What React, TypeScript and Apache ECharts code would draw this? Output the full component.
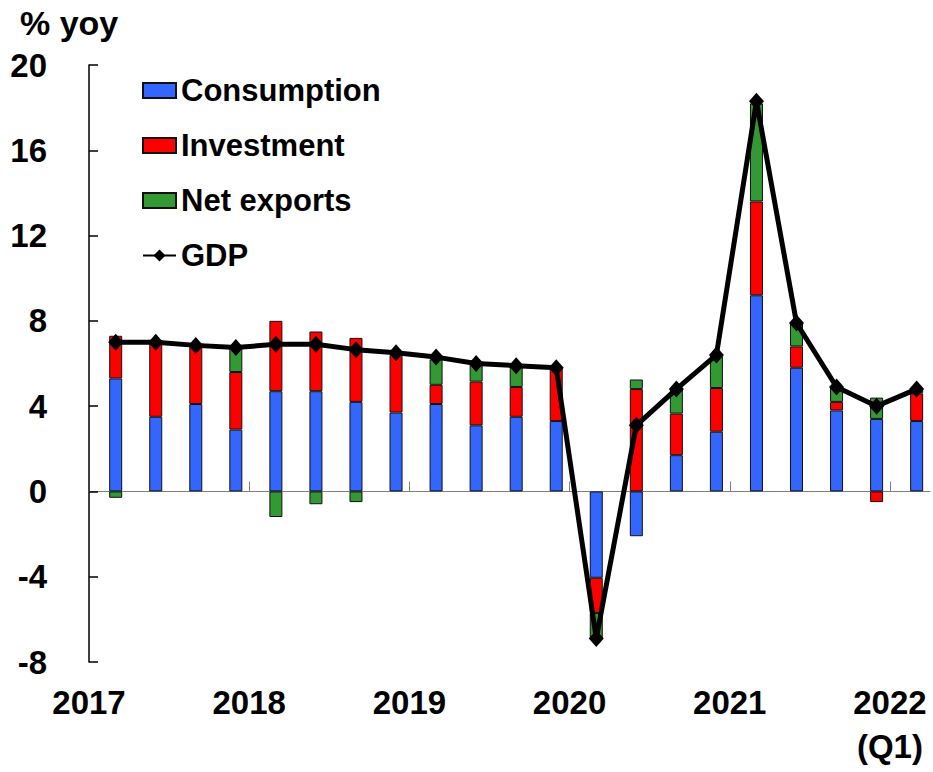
import React, { useEffect, useRef } from "react";
import * as echarts from "echarts";

const quarters = [
  "2017Q1", "2017Q2", "2017Q3", "2017Q4",
  "2018Q1", "2018Q2", "2018Q3", "2018Q4",
  "2019Q1", "2019Q2", "2019Q3", "2019Q4",
  "2020Q1", "2020Q2", "2020Q3", "2020Q4",
  "2021Q1", "2021Q2", "2021Q3", "2021Q4",
  "2022Q1",
];
const consumption = [5.3, 3.5, 4.1, 2.9, 4.7, 4.7, 4.2, 3.7, 4.1, 3.1, 3.5, 3.3, -4.05, -2.1, 1.7, 2.8, 9.2, 5.8, 3.8, 3.4, 3.3];
const investment = [2.0, 3.5, 2.7, 2.7, 3.3, 2.8, 3.0, 2.7, 0.9, 2.05, 1.4, 2.5, -1.65, 4.8, 1.95, 2.05, 4.4, 1.0, 0.4, -0.5, 1.3];
const netExports = [-0.3, 0, 0, 1.2, -1.2, -0.6, -0.5, 0, 1.2, 0.8, 1.0, 0, -1.2, 0.45, 1.15, 1.5, 4.6, 1.1, 0.7, 1.0, 0.2];
const gdp = [7.0, 7.0, 6.85, 6.75, 6.9, 6.9, 6.65, 6.5, 6.3, 6.0, 5.9, 5.8, -6.9, 3.1, 4.8, 6.4, 18.3, 7.9, 4.9, 4.0, 4.8];
const yearLabels = ["2017", "2018", "2019", "2020", "2021", "2022\n(Q1)"];
const yTicks = { min: -8, max: 20, interval: 4 };

const FONT = 'Arial, "Liberation Sans", sans-serif';

// Monthly time line from Jan 2017; each quarter is plotted at its end month (Mar, Jun, Sep, Dec).
const MONTHS = 64;
const months = Array.from({ length: MONTHS }, (_, m) => {
  const y = 2017 + Math.floor(m / 12);
  return `${y}-${String((m % 12) + 1).padStart(2, "0")}`;
});
const monthOf = (i: number) => i * 3 + 2;
const spread = (arr: number[], keepZero = false) => {
  const out: (number | string)[] = months.map(() => "-");
  arr.forEach((v, i) => {
    out[monthOf(i)] = v === 0 && !keepZero ? "-" : v;
  });
  return out;
};
const yearOfMonth = (m: number) => yearLabels[Math.floor(m / 12)];

export default function App() {
  const ref = useRef<HTMLDivElement>(null);
  useEffect(() => {
    if (!ref.current) return;
    const chart = echarts.init(ref.current, undefined, { renderer: "svg" });
    const barBase = {
      type: "bar",
      stack: "total",
      barWidth: 13,
      xAxisIndex: 0,
      yAxisIndex: 0,
    };
    chart.setOption({
      animation: false,
      textStyle: { fontFamily: FONT },
      grid: { left: 89, right: 3, top: 65, bottom: 110, outerBoundsMode: "none" },
      graphic: [
        {
          type: "text",
          left: 20,
          top: 6,
          style: { text: "% yoy", font: `bold 34px ${FONT}`, fill: "#000" },
        },
      ],
      legend: {
        orient: "vertical",
        left: 142,
        top: 75,
        padding: 0,
        itemWidth: 33,
        itemHeight: 15,
        itemGap: 24,
        textStyle: { fontSize: 31, fontWeight: "bold", color: "#000", fontFamily: FONT },
        data: [
          { name: "Consumption", icon: "rect" },
          { name: "Investment", icon: "rect" },
          { name: "Net exports", icon: "rect" },
          { name: "GDP" },
        ],
      },
      xAxis: [
        {
          type: "category",
          data: months,
          boundaryGap: false,
          axisLine: { show: true, onZero: true, lineStyle: { color: "#808080", width: 1 } },
          axisTick: { show: true, inside: true, length: 10, interval: (idx: number) => idx > 0 && idx % 12 === 0, lineStyle: { color: "#808080", width: 1 } },
          axisLabel: { show: false },
          splitLine: { show: false },
        },
        {
          type: "category",
          data: months,
          boundaryGap: false,
          position: "bottom",
          axisLine: { show: false, onZero: false },
          axisTick: { show: false },
          splitLine: { show: false },
          axisLabel: {
            show: true,
            interval: (idx: number) => idx % 12 === 0,
            formatter: (_v: string, idx: number) => yearOfMonth(idx) ?? "",
            fontSize: 33,
            fontWeight: "bold",
            color: "#000",
            fontFamily: FONT,
            margin: 18,
            lineHeight: 44,
          },
        },
      ],
      yAxis: {
        type: "value",
        min: yTicks.min,
        max: yTicks.max,
        interval: yTicks.interval,
        axisLine: { show: true, onZero: false, lineStyle: { color: "#000", width: 1.5 } },
        axisTick: { show: true, inside: true, length: 9, lineStyle: { color: "#000", width: 1.5 } },
        axisLabel: { fontSize: 33, fontWeight: "bold", color: "#000", fontFamily: FONT, margin: 42 },
        splitLine: { show: false },
      },
      series: [
        {
          ...barBase,
          name: "Consumption",
          itemStyle: { color: "#3366FF", borderColor: "#111", borderWidth: 1 },
          data: spread(consumption),
        },
        {
          ...barBase,
          name: "Investment",
          itemStyle: { color: "#FF0000", borderColor: "#111", borderWidth: 1 },
          data: spread(investment),
        },
        {
          ...barBase,
          name: "Net exports",
          itemStyle: { color: "#339933", borderColor: "#111", borderWidth: 1 },
          data: spread(netExports),
        },
        {
          type: "line",
          name: "GDP",
          xAxisIndex: 0,
          yAxisIndex: 0,
          data: spread(gdp, true),
          connectNulls: true,
          showAllSymbol: true,
          symbol: "diamond",
          symbolSize: [15, 17],
          itemStyle: { color: "#000" },
          lineStyle: { color: "#000", width: 5 },
          z: 5,
        },
      ],
    });
    return () => chart.dispose();
  }, []);
  return (
    <div
      ref={ref}
      style={{ position: "fixed", left: 0, top: 0, width: 933, height: 772, background: "#fff" }}
    />
  );
}
